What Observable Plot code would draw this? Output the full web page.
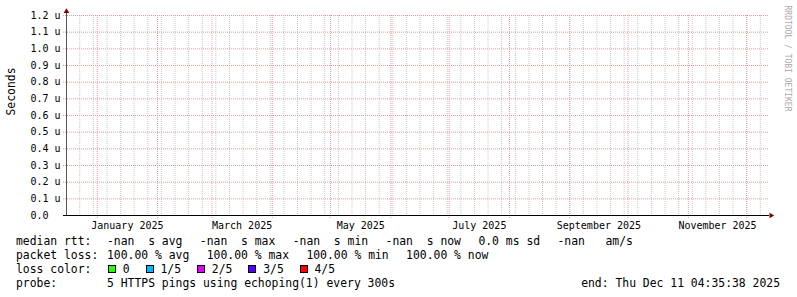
<!DOCTYPE html>
<html><head><meta charset="utf-8">
<script src="https://cdn.jsdelivr.net/npm/d3@7"></script>
<script src="https://cdn.jsdelivr.net/npm/@observablehq/plot@0.6"></script>
<style>
html,body{margin:0;padding:0;background:#fff;}
#wrap{position:relative;width:797px;height:297px;overflow:hidden;background:#fff;}
#chart svg{display:block;}
.row{position:absolute;left:16px;font-family:"DejaVu Sans Mono";font-size:11.4px;line-height:14px;white-space:pre;color:#000;}
.endrow{position:absolute;right:17px;font-family:"DejaVu Sans Mono";font-size:11.4px;line-height:14px;white-space:pre;color:#000;}
.lab{display:inline-block;width:91px;}
.it{display:inline-block;margin-right:3.7px;}
.sq{display:inline-block;width:6px;height:6px;border:1px solid #000;vertical-align:baseline;margin-left:1px;}
.sqit{display:inline-block;margin-right:1.2px;}
</style></head>
<body><div id="wrap"><div id="chart"></div><div id="legend"></div></div>
<script>
// ---- data ----
const endTime = new Date(Date.UTC(2025, 11, 11, 4, 35, 38));
const spanDays = 360;
const yTicks = [0, 0.1, 0.2, 0.3, 0.4, 0.5, 0.6, 0.7, 0.8, 0.9, 1.0, 1.1, 1.2]; // microseconds
const monthLabelStarts = ["2025-01-01", "2025-03-01", "2025-05-01", "2025-07-01", "2025-09-01", "2025-11-01"];
const monthLabels = ["January 2025", "March 2025", "May 2025", "July 2025", "September 2025", "November 2025"];
const rttItems = ["-nan  s avg", "-nan  s max", "-nan  s min", "-nan  s now", "0.0 ms sd", "-nan   am/s"];
const lossItems = ["100.00 % avg", "100.00 % max", "100.00 % min", "100.00 % now"];
const lossLabels = ["0", "1/5", "2/5", "3/5", "4/5"];
const lossColors = ["#26ff00", "#00b8ff", "#dd00ff", "#5500ff", "#ff0000"];
const probeText = "5 HTTPS pings using echoping(1) every 300s";
const endText = "end: Thu Dec 11 04:35:38 2025";
const yAxisLabel = "Seconds";
const watermark = "RRDTOOL / TOBI OETIKER";

// ---- chart ----
const x0 = new Date(+endTime - spanDays * 864e5);
const weeks = d3.utcMonday.range(x0, endTime);
const months = d3.utcMonth.range(x0, endTime);
const labelData = monthLabelStarts.map((s, i) => {
  const a = new Date(s + "T00:00:00Z");
  const b = d3.utcMonth.offset(a, 1);
  return {mid: new Date((+a + +b) / 2), text: monthLabels[i]};
});
const font = "DejaVu Sans Mono";
const upArrow = {draw(c) { c.moveTo(0, -3.2); c.lineTo(2.8, 1.5); c.lineTo(-2.8, 1.5); c.closePath(); }};
const rightArrow = {draw(c) { c.moveTo(3.2, 0); c.lineTo(-1.5, 2.8); c.lineTo(-1.5, -2.8); c.closePath(); }};

const chart = Plot.plot({
  width: 797, height: 297,
  marginLeft: 66, marginRight: 31, marginTop: 15, marginBottom: 82,
  x: {type: "utc", domain: [x0, endTime], axis: null},
  y: {domain: [0, 1.2], axis: null},
  style: {fontFamily: font, background: "transparent"},
  marks: [
    Plot.ruleX(weeks, {stroke: "#c8c8c8", strokeDasharray: "1,1", insetBottom: -2}),
    Plot.ruleX(months, {stroke: "#e89a9a", strokeDasharray: "1,1", insetBottom: -3}),
    Plot.ruleY(yTicks, {y: d => d, stroke: "#e89a9a", strokeDasharray: "1,1", insetLeft: -3, insetRight: -2}),
    Plot.ruleY([0], {y: d => d, stroke: "#000", insetLeft: -3, insetRight: -3}),
    Plot.ruleX([x0], {x: d => d, stroke: "#555", insetTop: -3}),
    Plot.dot([x0], {x: d => d, y: () => 1.2, dy: -4, symbol: upArrow, fill: "#7f0000", stroke: null}),
    Plot.dot([endTime], {x: d => d, y: () => 0, dx: 4.5, symbol: rightArrow, fill: "#7f0000", stroke: null}),
    Plot.text(yTicks, {y: d => d, text: d => d === 0 ? "0.0" : d.toFixed(1) + " u",
      frameAnchor: "left", dx: -36, textAnchor: "start", lineAnchor: "middle",
      fontSize: 10, fontFamily: font, fill: "#000"}),
    Plot.text(labelData, {x: "mid", text: "text", frameAnchor: "bottom", dy: 13, lineAnchor: "bottom",
      fontSize: 10, fontFamily: font, fill: "#000"}),
    Plot.text([yAxisLabel], {text: d => d, frameAnchor: "left", dx: -55, rotate: -90,
      fontSize: 11.4, fontFamily: font, fill: "#000"}),
    Plot.text([watermark], {text: d => d, frameAnchor: "top-right", dx: 21, dy: -10, rotate: 90,
      textAnchor: "start", lineAnchor: "middle", fontSize: 8, fontFamily: font, fill: "#aaa"})
  ]
});
document.getElementById("chart").append(chart);

// ---- legend ----
const lg = document.getElementById("legend");
function row(top, label, html) {
  const d = document.createElement("div");
  d.className = "row";
  d.style.top = top + "px";
  d.innerHTML = `<span class="lab">${label}</span>` + html;
  lg.append(d);
}
row(234, "median rtt:", rttItems.map(t => `<span class="it">${t}  </span>`).join(""));
row(248, "packet loss:", lossItems.map(t => `<span class="it">${t}  </span>`).join(""));
row(262, "loss color:", lossLabels.map((t, i) =>
  `<span class="sqit"><span class="sq" style="background:${lossColors[i]}"></span> ${t}  </span>`).join(""));
row(276, "probe:", `<span>${probeText}</span>`);
const e = document.createElement("div");
e.className = "endrow"; e.style.top = "276px"; e.textContent = endText;
lg.append(e);
</script>
</body></html>
